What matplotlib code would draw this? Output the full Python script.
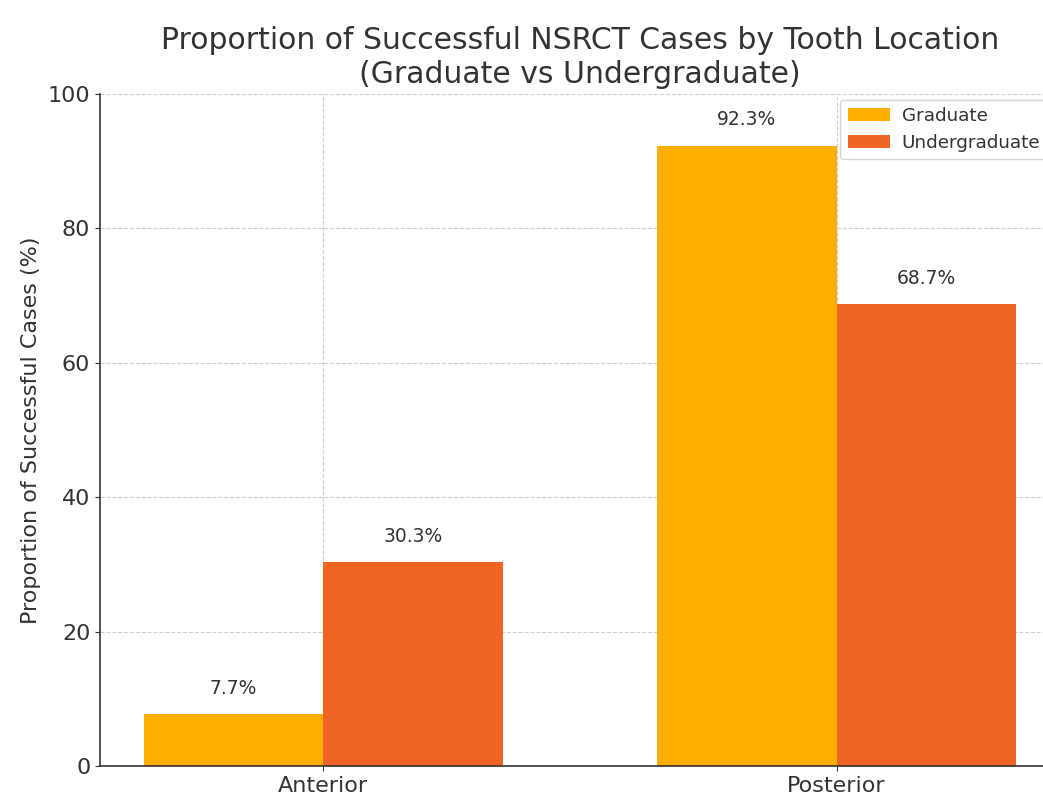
import matplotlib.pyplot as plt
import numpy as np

locations = ["Anterior", "Posterior"]
graduate = [7.7, 92.3]
undergraduate = [30.3, 68.7]
yticks = [0, 20, 40, 60, 80, 100]

text_color = "#333333"
plt.rcParams["font.family"] = "DejaVu Sans"
plt.rcParams["text.color"] = text_color
plt.rcParams["axes.labelcolor"] = text_color
plt.rcParams["xtick.color"] = text_color
plt.rcParams["ytick.color"] = text_color

fig = plt.figure(figsize=(10.43, 7.95), dpi=100)
ax = fig.add_axes([100 / 1043, 29 / 795, 960 / 1043, 672 / 795])

x = np.arange(len(locations))
width = 0.35
bars_g = ax.bar(x - width / 2, graduate, width, color="#FFAE00", label="Graduate")
bars_u = ax.bar(x + width / 2, undergraduate, width, color="#F06424", label="Undergraduate")

for bars in (bars_g, bars_u):
    for b in bars:
        h = b.get_height()
        ax.annotate(f"{h}%", (b.get_x() + b.get_width() / 2, h),
                    xytext=(0, 12), textcoords="offset points",
                    ha="center", va="bottom", fontsize=13.5, color=text_color)

ax.set_ylim(0, 100)
ax.set_yticks(yticks)
ax.set_xticks(x)
ax.set_xticklabels(locations, fontsize=16)
ax.tick_params(axis="y", labelsize=16)
ax.set_ylabel("Proportion of Successful Cases (%)", fontsize=16, labelpad=5)
ax.set_title("Proportion of Successful NSRCT Cases by Tooth Location\n(Graduate vs Undergraduate)",
             fontsize=21.5, pad=8)

ax.grid(True, color="#d0d0d0", linestyle="--", linewidth=0.8)
ax.set_axisbelow(True)
for side in ("top", "right"):
    ax.spines[side].set_visible(False)
for side in ("left", "bottom"):
    ax.spines[side].set_color("#333333")
    ax.spines[side].set_linewidth(1.2)

# pull the legend slightly in from the right edge
ax.legend(loc="upper right", bbox_to_anchor=(0.993, 1.0), fontsize=13.2,
          handlelength=2.3, handletextpad=0.65, borderaxespad=0.3)

fig.savefig("out.png", dpi=100)
